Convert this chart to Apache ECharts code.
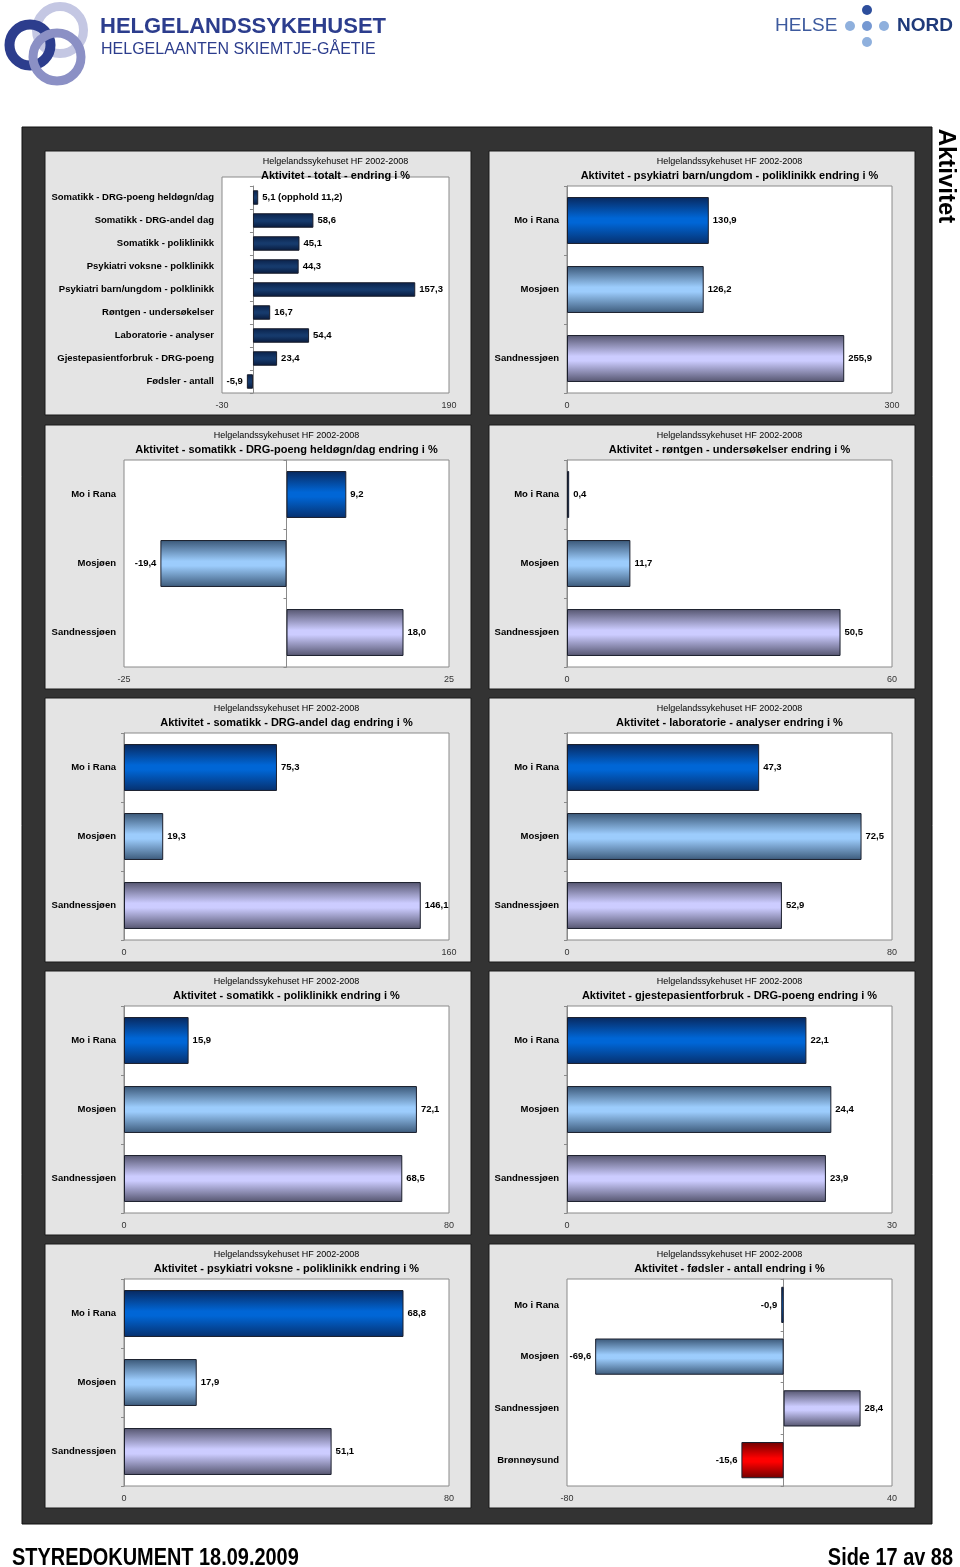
<!DOCTYPE html>
<html>
<head>
<meta charset="utf-8">
<script src="https://cdn.jsdelivr.net/npm/echarts@6/dist/echarts.min.js"></script>
<style>
html,body{margin:0;padding:0;background:#ffffff;}
#c{width:960px;height:1567px;}
</style>
</head>
<body>
<div id="c"></div>
<script>
// ---------------- DATA ----------------
const superTitle = 'Helgelandssykehuset HF 2002-2008';

const totalCategories = [
  'Somatikk - DRG-poeng heldøgn/dag',
  'Somatikk - DRG-andel dag',
  'Somatikk - poliklinikk',
  'Psykiatri voksne - polklinikk',
  'Psykiatri barn/ungdom - polklinikk',
  'Røntgen - undersøkelser',
  'Laboratorie - analyser',
  'Gjestepasientforbruk - DRG-poeng',
  'Fødsler - antall'
];
const totalValues = [5.1, 58.6, 45.1, 44.3, 157.3, 16.7, 54.4, 23.4, -5.9];
const totalOpphold = 11.2;
const totalTicks = [-30, 190];

const siteCategories = ['Mo i Rana', 'Mosjøen', 'Sandnessjøen'];
const birthCategories = ['Mo i Rana', 'Mosjøen', 'Sandnessjøen', 'Brønnøysund'];

const psykBarnValues = [130.9, 126.2, 255.9];
const psykBarnTicks = [0, 300];

const drgHeldognValues = [9.2, -19.4, 18.0];
const drgHeldognTicks = [-25, 25];

const rontgenValues = [0.4, 11.7, 50.5];
const rontgenTicks = [0, 60];

const drgDagValues = [75.3, 19.3, 146.1];
const drgDagTicks = [0, 160];

const labValues = [47.3, 72.5, 52.9];
const labTicks = [0, 80];

const somPoliValues = [15.9, 72.1, 68.5];
const somPoliTicks = [0, 80];

const gjestValues = [22.1, 24.4, 23.9];
const gjestTicks = [0, 30];

const psykVoksneValues = [68.8, 17.9, 51.1];
const psykVoksneTicks = [0, 80];

const fodslerValues = [-0.9, -69.6, 28.4, -15.6];
const fodslerTicks = [-80, 40];

// ---------------- STYLE / LAYOUT ----------------
const FONT = '"Liberation Sans", Arial, Helvetica, sans-serif';
const G = echarts.graphic;
function grad(dark, light, dark2) {
  return new G.LinearGradient(0, 0, 0, 1, [
    {offset: 0, color: dark},
    {offset: 0.45, color: light},
    {offset: 0.55, color: light},
    {offset: 1, color: dark2 || dark}
  ]);
}
const navy = grad('#0a2149', '#163a6c', '#081a3c');
const siteColors = [
  grad('#08285e', '#0066d6', '#06306e'),
  grad('#3a5777', '#9cccfc', '#3c5a7a'),
  grad('#55556f', '#ccccff', '#55556f'),
  grad('#700000', '#ff0000', '#700000')
];
const fmt = v => v.toFixed(1).replace('.', ',');

const rowTops = [151, 425, 698, 971, 1244];
const colPlotLeft = [124, 567];
const PLOT_W = 325;
const LBL = 9.5;

const charts = [
  {title: 'Aktivitet - totalt - endring i %', cats: totalCategories, vals: totalValues, ticks: totalTicks, row: 0, col: 0, total: true},
  {title: 'Aktivitet - psykiatri barn/ungdom - poliklinikk endring i %', cats: siteCategories, vals: psykBarnValues, ticks: psykBarnTicks, row: 0, col: 1},
  {title: 'Aktivitet - somatikk - DRG-poeng heldøgn/dag endring i %', cats: siteCategories, vals: drgHeldognValues, ticks: drgHeldognTicks, row: 1, col: 0},
  {title: 'Aktivitet - røntgen - undersøkelser endring i %', cats: siteCategories, vals: rontgenValues, ticks: rontgenTicks, row: 1, col: 1},
  {title: 'Aktivitet - somatikk - DRG-andel dag endring i %', cats: siteCategories, vals: drgDagValues, ticks: drgDagTicks, row: 2, col: 0},
  {title: 'Aktivitet - laboratorie - analyser endring i %', cats: siteCategories, vals: labValues, ticks: labTicks, row: 2, col: 1},
  {title: 'Aktivitet - somatikk - poliklinikk endring i %', cats: siteCategories, vals: somPoliValues, ticks: somPoliTicks, row: 3, col: 0},
  {title: 'Aktivitet - gjestepasientforbruk - DRG-poeng endring i %', cats: siteCategories, vals: gjestValues, ticks: gjestTicks, row: 3, col: 1},
  {title: 'Aktivitet - psykiatri voksne - poliklinikk endring i %', cats: siteCategories, vals: psykVoksneValues, ticks: psykVoksneTicks, row: 4, col: 0},
  {title: 'Aktivitet - fødsler - antall endring i %', cats: birthCategories, vals: fodslerValues, ticks: fodslerTicks, row: 4, col: 1}
];

const grids = [], xAxes = [], yAxes = [], series = [], titles = [];
const graphics = [];

charts.forEach((c, i) => {
  const P = rowTops[c.row];
  let left, top, width, height;
  left = c.total ? 222 : colPlotLeft[c.col];
  width = c.total ? 227 : PLOT_W;
  top = P + 35; height = 207;
  if (c.total) {
    // taller white plot box for the overview chart
    graphics.push({type: 'rect', z: -5, shape: {x: left, y: P + 26, width: width, height: 216}, style: {fill: '#ffffff', stroke: '#8a8a8a', lineWidth: 1}});
    grids.push({left, top, width, height, show: false, containLabel: false});
  } else {
    grids.push({left, top, width, height, show: true, backgroundColor: '#ffffff', borderColor: '#8a8a8a', borderWidth: 1, containLabel: false});
  }

  titles.push({
    text: superTitle, subtext: c.title,
    left: left + width / 2, top: P + 5, textAlign: 'center', padding: 0, itemGap: 2,
    textStyle: {fontFamily: FONT, fontSize: 9, fontWeight: 'normal', color: '#000', lineHeight: 11},
    subtextStyle: {fontFamily: FONT, fontSize: 11, fontWeight: 'bold', color: '#000', lineHeight: 14}
  });

  xAxes.push({
    type: 'value', gridIndex: i, min: c.ticks[0], max: c.ticks[1], interval: c.ticks[1] - c.ticks[0],
    axisLine: {show: false}, axisTick: {show: false}, splitLine: {show: false},
    axisLabel: {fontFamily: FONT, fontSize: 9, color: '#333', margin: 8}
  });
  yAxes.push({
    type: 'category', gridIndex: i, data: c.cats, inverse: true, position: 'left',
    axisLine: {show: false, onZero: false}, axisTick: {show: false},
    axisLabel: {fontFamily: FONT, fontSize: LBL, fontWeight: 'bold', color: '#000', margin: 8}
  });
  yAxes.push({
    type: 'category', gridIndex: i, data: c.cats, inverse: true, position: 'left',
    axisLine: {show: true, onZero: true, lineStyle: {color: '#8a8a8a', width: 1}},
    axisTick: {show: true, length: 3, lineStyle: {color: '#8a8a8a'}},
    axisLabel: {show: false}
  });

  const data = c.vals.map((v, k) => ({
    value: v,
    itemStyle: {color: c.total ? navy : siteColors[k]},
    label: {position: v < 0 ? 'left' : 'right'}
  }));
  series.push({
    type: 'bar', xAxisIndex: i, yAxisIndex: 2 * i, data,
    barWidth: c.total ? '63%' : (c.cats.length === 4 ? '70%' : '68%'),
    itemStyle: {borderColor: '#1a1e2c', borderWidth: 1},
    label: {
      show: true, distance: 4, fontFamily: FONT, fontSize: LBL, fontWeight: 'bold', color: '#000',
      formatter: p => (c.total && p.dataIndex === 0) ? fmt(p.value) + ' (opphold ' + fmt(totalOpphold) + ')' : fmt(p.value)
    },
    animation: false
  });
});

// ---------------- DECORATION ----------------
graphics.push({type: 'rect', z: -10, shape: {x: 22, y: 127, width: 910, height: 1397}, style: {fill: '#333333', stroke: '#111111', lineWidth: 1}});
rowTops.forEach(P => {
  [45, 489].forEach(x => {
    graphics.push({type: 'rect', z: -9, shape: {x: x, y: P, width: 426, height: 264}, style: {fill: '#e4e4e4', stroke: '#1a1a1a', lineWidth: 1}});
  });
});
// logo rings
graphics.push({type: 'circle', z: 5, shape: {cx: 60, cy: 30, r: 23.5}, style: {fill: 'none', stroke: '#c4c7e3', lineWidth: 9}});
graphics.push({type: 'circle', z: 5, shape: {cx: 30, cy: 45, r: 20.5}, style: {fill: 'none', stroke: '#2c3d8d', lineWidth: 10}});
graphics.push({type: 'circle', z: 5, shape: {cx: 57, cy: 57, r: 24}, style: {fill: 'none', stroke: '#8b90c5', lineWidth: 9}});
graphics.push({type: 'text', z: 5, x: 100, y: 27, style: {text: 'HELGELANDSSYKEHUSET', font: 'bold 22px ' + FONT, fill: '#2c3d8d', align: 'left', verticalAlign: 'middle'}});
graphics.push({type: 'text', z: 5, x: 101, y: 50, style: {text: 'HELGELAANTEN SKIEMTJE-GÅETIE', font: '16px ' + FONT, fill: '#2c3d8d', align: 'left', verticalAlign: 'middle'}});
// Helse Nord
graphics.push({type: 'text', z: 5, x: 775, y: 26, style: {text: 'HELSE', font: '19px ' + FONT, fill: '#3d5a9e', align: 'left', verticalAlign: 'middle'}});
graphics.push({type: 'text', z: 5, x: 897, y: 26, style: {text: 'NORD', font: 'bold 19px ' + FONT, fill: '#1f3a7a', align: 'left', verticalAlign: 'middle'}});
[[867, 10, '#2d4e9c'], [850, 26, '#8fb0dd'], [867, 26, '#7598d2'], [884, 26, '#8fb0dd'], [867, 42, '#8fb0dd']].forEach(d => {
  graphics.push({type: 'circle', z: 5, shape: {cx: d[0], cy: d[1], r: 5}, style: {fill: d[2]}});
});
// side label
graphics.push({type: 'text', z: 5, x: 946, y: 176, rotation: -Math.PI / 2, style: {text: 'Aktivitet', font: 'bold 24px ' + FONT, fill: '#000', align: 'center', verticalAlign: 'middle'}});
// footer (condensed bold, emulated with horizontal scaling)
graphics.push({type: 'text', z: 5, x: 12, y: 1558, scaleX: 0.83, style: {text: 'STYREDOKUMENT 18.09.2009', font: 'bold 24px ' + FONT, fill: '#000', align: 'left', verticalAlign: 'middle'}});
graphics.push({type: 'text', z: 5, x: 953, y: 1558, scaleX: 0.83, style: {text: 'Side 17 av 88', font: 'bold 24px ' + FONT, fill: '#000', align: 'right', verticalAlign: 'middle'}});

const chart = echarts.init(document.getElementById('c'), null, {renderer: 'canvas'});
chart.setOption({
  animation: false,
  backgroundColor: '#ffffff',
  title: titles,
  grid: grids,
  xAxis: xAxes,
  yAxis: yAxes,
  series: series,
  graphic: {elements: graphics}
});
</script>
</body>
</html>
